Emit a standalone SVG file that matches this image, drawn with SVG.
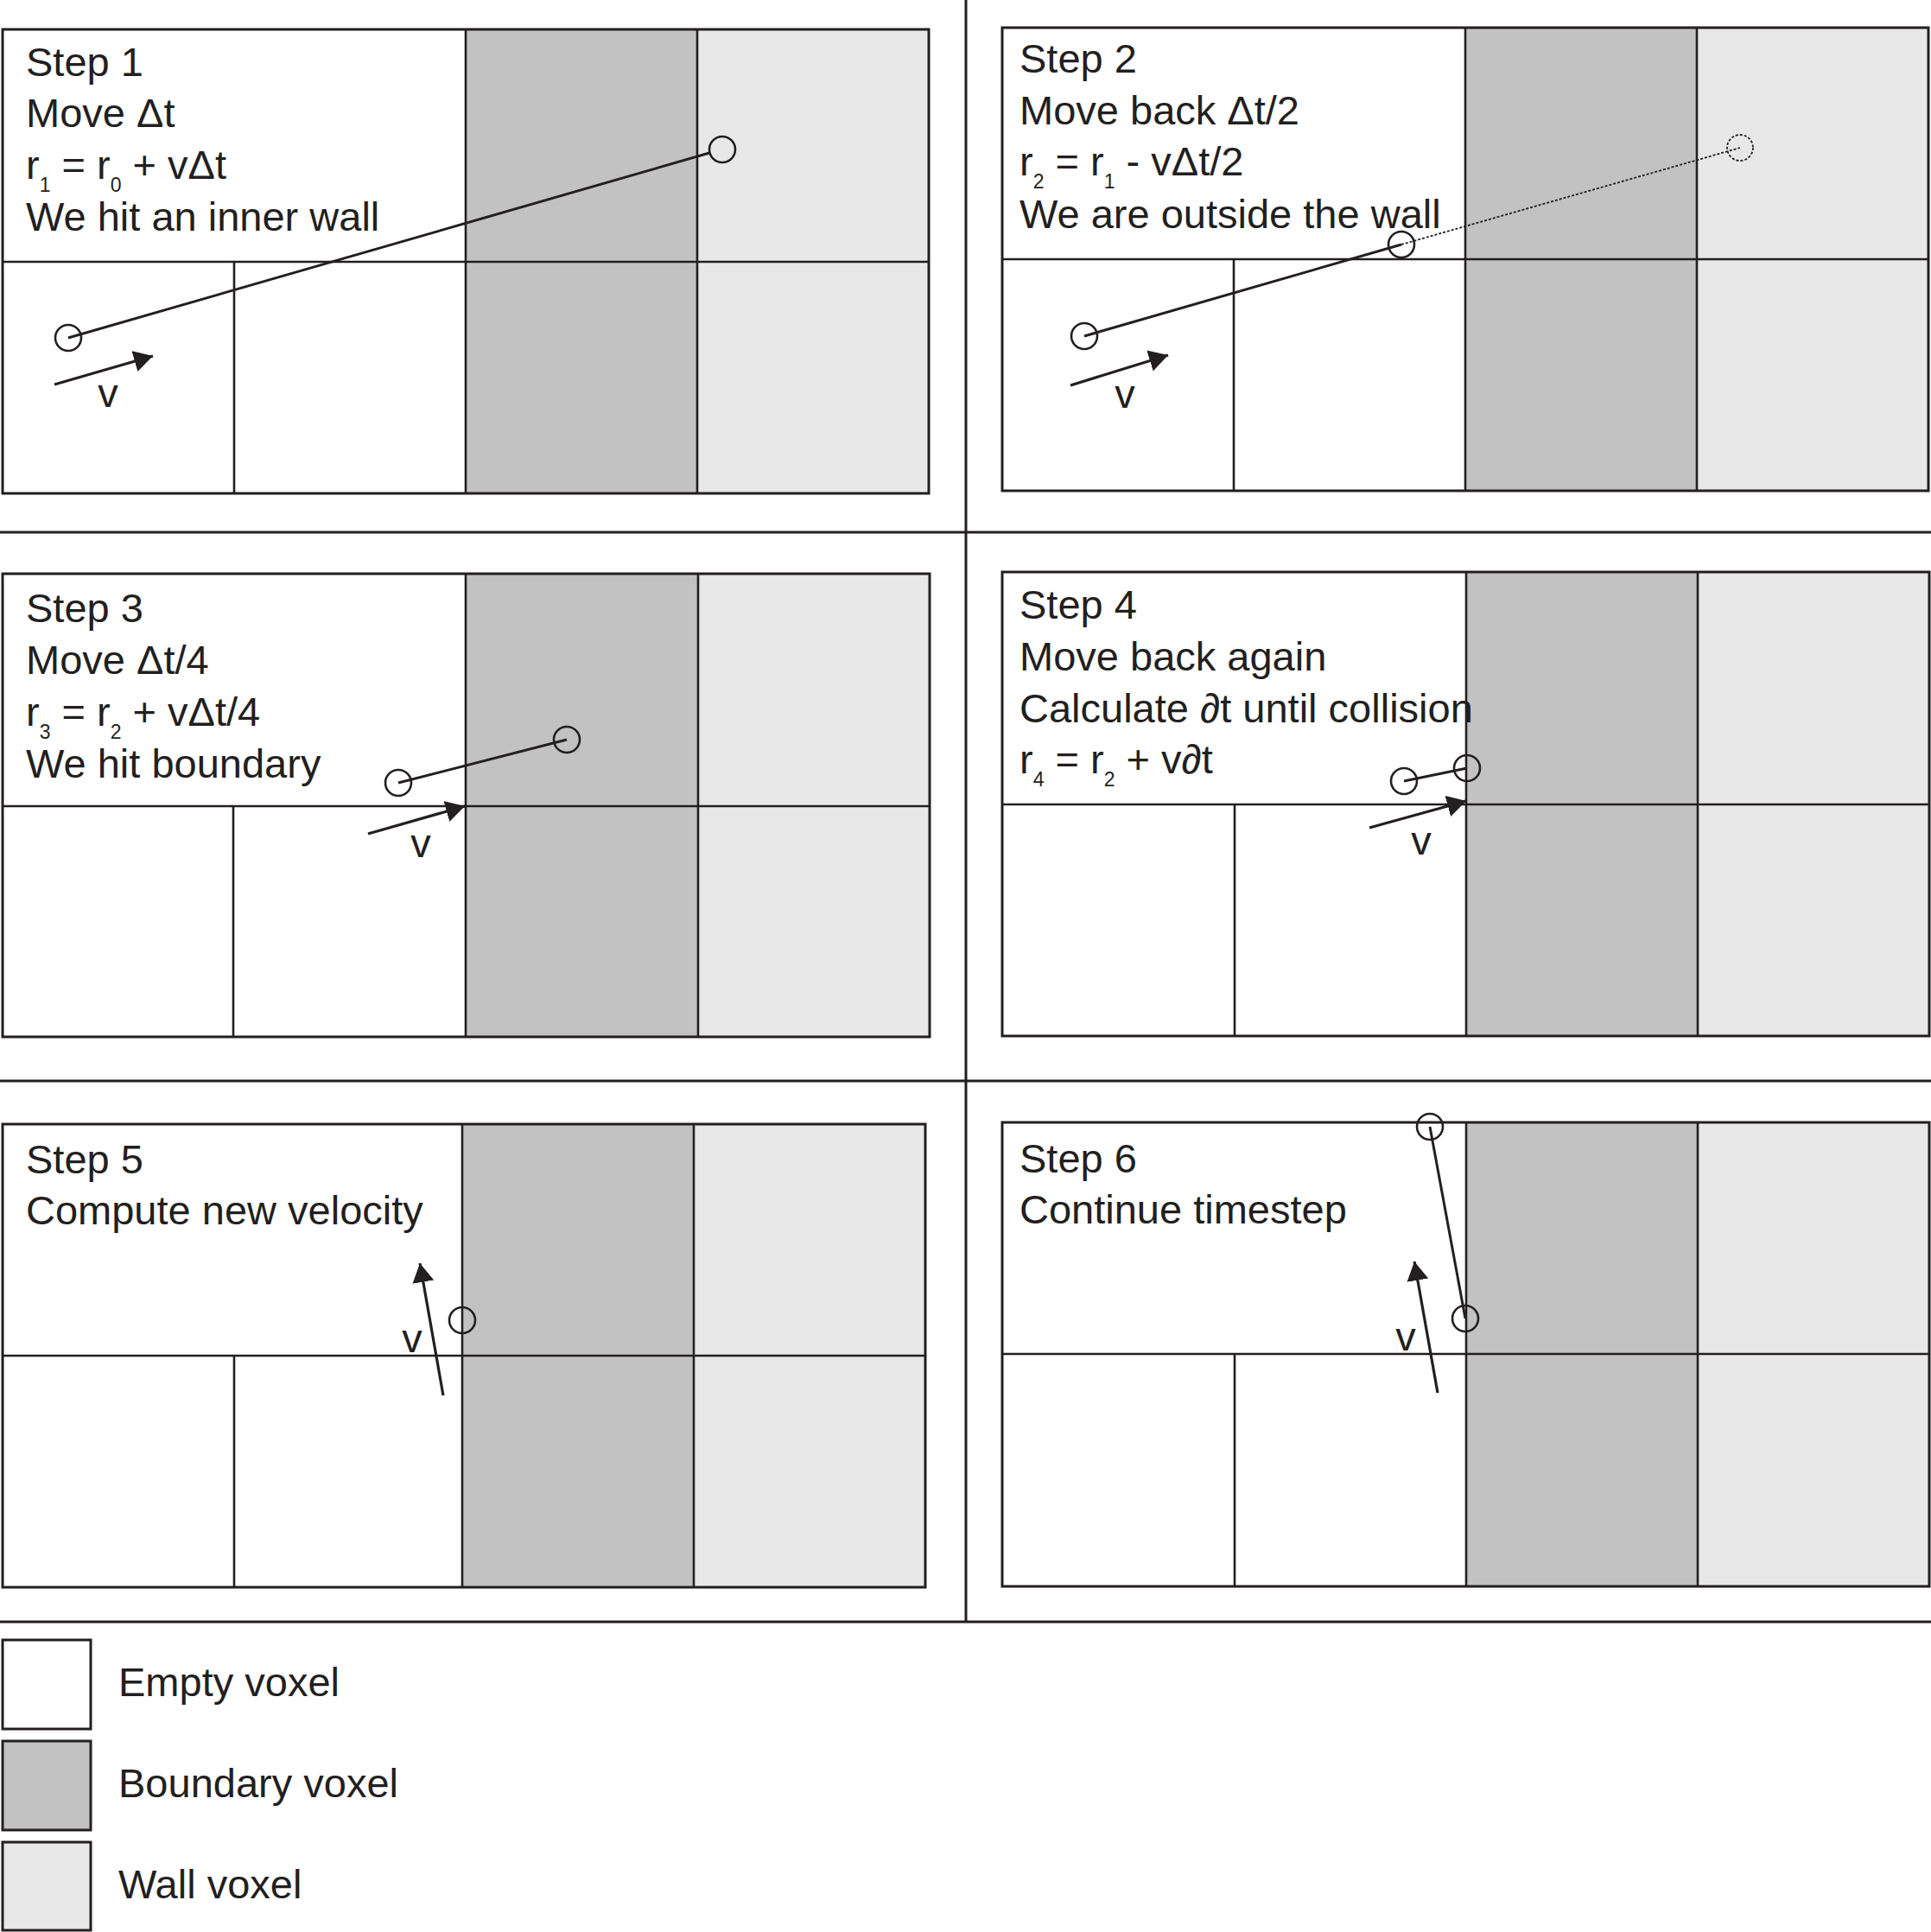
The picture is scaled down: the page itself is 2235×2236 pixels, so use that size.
<svg xmlns="http://www.w3.org/2000/svg" width="2235" height="2236" viewBox="0 0 2235 2236">
<style>
text{font-family:"Liberation Sans",Arial,sans-serif;font-size:47px;fill:#231f20}
.sub{font-size:23px}
.v{text-anchor:middle}
.bd{fill:#c2c2c2}
.wl{fill:#e8e8e8}
.frame{fill:none;stroke:#231f20;stroke-width:3}
.gl{stroke:#231f20;stroke-width:2.6;fill:none}
.div{stroke:#231f20;stroke-width:3}
.pt{fill:none;stroke:#231f20;stroke-width:2.6}
.path{stroke:#231f20;stroke-width:3;fill:none}
.dot{stroke:#231f20;stroke-width:1.8;fill:none;stroke-dasharray:3 2}
.vel{stroke:#231f20;stroke-width:3.2;fill:none;marker-end:url(#ah)}
</style>
<defs>
<marker id="ah" markerUnits="userSpaceOnUse" markerWidth="24" markerHeight="26" refX="22" refY="12.5" orient="auto">
<path d="M0,0 L22,12.5 L0,25 Z" fill="#231f20"/>
</marker>
</defs>
<rect width="2235" height="2236" fill="#fff"/>

<g id="dividers">
<line class="div" x1="1118" y1="0" x2="1118" y2="1877"/>
<line class="div" x1="0" y1="616" x2="2235" y2="616"/>
<line class="div" x1="0" y1="1251" x2="2235" y2="1251"/>
<line class="div" x1="0" y1="1877" x2="2235" y2="1877"/>
</g>

<g id="step1">
<rect class="bd" x="539" y="34" width="268" height="537"/>
<rect class="wl" x="807" y="34" width="268" height="537"/>
<line class="gl" x1="3" y1="303" x2="1075" y2="303"/>
<line class="gl" x1="271" y1="303" x2="271" y2="571"/>
<line class="gl" x1="539" y1="34" x2="539" y2="571"/>
<line class="gl" x1="807" y1="34" x2="807" y2="571"/>
<rect class="frame" x="3" y="34" width="1072" height="537"/>
<text x="30" y="88">Step 1</text>
<text x="30" y="147">Move Δt</text>
<text x="30" y="207">r<tspan class="sub" dy="15">1</tspan><tspan dy="-15"> = r</tspan><tspan class="sub" dy="15">0</tspan><tspan dy="-15"> + vΔt</tspan></text>
<text x="30" y="267">We hit an inner wall</text>
</g>

<g id="step2">
<rect class="bd" x="1696" y="32" width="268" height="536"/>
<rect class="wl" x="1964" y="32" width="268" height="536"/>
<line class="gl" x1="1160" y1="300" x2="2232" y2="300"/>
<line class="gl" x1="1428" y1="300" x2="1428" y2="568"/>
<line class="gl" x1="1696" y1="32" x2="1696" y2="568"/>
<line class="gl" x1="1964" y1="32" x2="1964" y2="568"/>
<rect class="frame" x="1160" y="32" width="1072" height="536"/>
<text x="1180" y="84">Step 2</text>
<text x="1180" y="144">Move back Δt/2</text>
<text x="1180" y="203">r<tspan class="sub" dy="15">2</tspan><tspan dy="-15"> = r</tspan><tspan class="sub" dy="15">1</tspan><tspan dy="-15"> - vΔt/2</tspan></text>
<text x="1180" y="264">We are outside the wall</text>
</g>

<g id="step3">
<rect class="bd" x="539" y="664" width="269" height="536"/>
<rect class="wl" x="808" y="664" width="268" height="536"/>
<line class="gl" x1="3" y1="933" x2="1076" y2="933"/>
<line class="gl" x1="270" y1="933" x2="270" y2="1200"/>
<line class="gl" x1="539" y1="664" x2="539" y2="1200"/>
<line class="gl" x1="808" y1="664" x2="808" y2="1200"/>
<rect class="frame" x="3" y="664" width="1073" height="536"/>
<text x="30" y="720">Step 3</text>
<text x="30" y="780">Move Δt/4</text>
<text x="30" y="840">r<tspan class="sub" dy="15">3</tspan><tspan dy="-15"> = r</tspan><tspan class="sub" dy="15">2</tspan><tspan dy="-15"> + vΔt/4</tspan></text>
<text x="30" y="900">We hit boundary</text>
</g>

<g id="step4">
<rect class="bd" x="1697" y="662" width="268" height="537"/>
<rect class="wl" x="1965" y="662" width="268" height="537"/>
<line class="gl" x1="1160" y1="931" x2="2233" y2="931"/>
<line class="gl" x1="1429" y1="931" x2="1429" y2="1199"/>
<line class="gl" x1="1697" y1="662" x2="1697" y2="1199"/>
<line class="gl" x1="1965" y1="662" x2="1965" y2="1199"/>
<rect class="frame" x="1160" y="662" width="1073" height="537"/>
<text x="1180" y="716">Step 4</text>
<text x="1180" y="776">Move back again</text>
<text x="1180" y="836">Calculate ∂t until collision</text>
<text x="1180" y="895">r<tspan class="sub" dy="15">4</tspan><tspan dy="-15"> = r</tspan><tspan class="sub" dy="15">2</tspan><tspan dy="-15"> + v∂t</tspan></text>
</g>

<g id="step5">
<rect class="bd" x="535" y="1301" width="268" height="536"/>
<rect class="wl" x="803" y="1301" width="268" height="536"/>
<line class="gl" x1="3" y1="1569" x2="1071" y2="1569"/>
<line class="gl" x1="271" y1="1569" x2="271" y2="1837"/>
<line class="gl" x1="535" y1="1301" x2="535" y2="1837"/>
<line class="gl" x1="803" y1="1301" x2="803" y2="1837"/>
<rect class="frame" x="3" y="1301" width="1068" height="536"/>
<text x="30" y="1358">Step 5</text>
<text x="30" y="1417">Compute new velocity</text>
</g>

<g id="step6">
<rect class="bd" x="1697" y="1299" width="268" height="537"/>
<rect class="wl" x="1965" y="1299" width="268" height="537"/>
<line class="gl" x1="1160" y1="1567" x2="2233" y2="1567"/>
<line class="gl" x1="1429" y1="1567" x2="1429" y2="1836"/>
<line class="gl" x1="1697" y1="1299" x2="1697" y2="1836"/>
<line class="gl" x1="1965" y1="1299" x2="1965" y2="1836"/>
<rect class="frame" x="1160" y="1299" width="1073" height="537"/>
<text x="1180" y="1357">Step 6</text>
<text x="1180" y="1416">Continue timestep</text>
</g>

<g id="connectors">
<line class="path" x1="79" y1="391" x2="821" y2="177"/>
<circle class="pt" cx="79" cy="391" r="15"/>
<circle class="pt" cx="836" cy="173" r="15"/>
<line class="vel" x1="63" y1="445" x2="177" y2="412"/>

<line class="path" x1="1255" y1="389" x2="1622" y2="283"/>
<line class="dot" x1="1622" y1="283" x2="2014" y2="171"/>
<circle class="pt" cx="1255" cy="389" r="15"/>
<circle class="pt" cx="1622" cy="283" r="15"/>
<circle class="dot" cx="2014" cy="171" r="15"/>
<line class="vel" x1="1239" y1="446" x2="1352" y2="411"/>

<line class="path" x1="461" y1="906" x2="656" y2="856"/>
<circle class="pt" cx="461" cy="906" r="15"/>
<circle class="pt" cx="656" cy="856" r="15"/>
<line class="vel" x1="426" y1="965" x2="538" y2="933"/>

<line class="path" x1="1625" y1="904" x2="1698" y2="889"/>
<circle class="pt" cx="1625" cy="904" r="15"/>
<circle class="pt" cx="1698" cy="889" r="15"/>
<line class="vel" x1="1585" y1="958" x2="1697" y2="927"/>

<circle class="pt" cx="535" cy="1528" r="15"/>
<line class="vel" x1="513" y1="1615" x2="486" y2="1462"/>

<line class="path" x1="1655" y1="1304" x2="1696" y2="1526"/>
<circle class="pt" cx="1655" cy="1304" r="15"/>
<circle class="pt" cx="1696" cy="1526" r="15"/>
<line class="vel" x1="1664" y1="1612" x2="1637" y2="1460"/>
</g>

<g id="vlabels">
<text class="v" x="125" y="471">v</text>
<text class="v" x="1302" y="472">v</text>
<text class="v" x="487" y="992">v</text>
<text class="v" x="1645" y="989">v</text>
<text class="v" x="477" y="1565">v</text>
<text class="v" x="1627" y="1563">v</text>
</g>

<g id="legend">
<rect class="frame" x="3" y="1898" width="102" height="103" style="fill:#fff"/>
<rect class="frame" x="3" y="2015" width="102" height="103" style="fill:#c2c2c2"/>
<rect class="frame" x="3" y="2132" width="102" height="102" style="fill:#e8e8e8"/>
<text x="137" y="1963">Empty voxel</text>
<text x="137" y="2080">Boundary voxel</text>
<text x="137" y="2197">Wall voxel</text>
</g>
</svg>
